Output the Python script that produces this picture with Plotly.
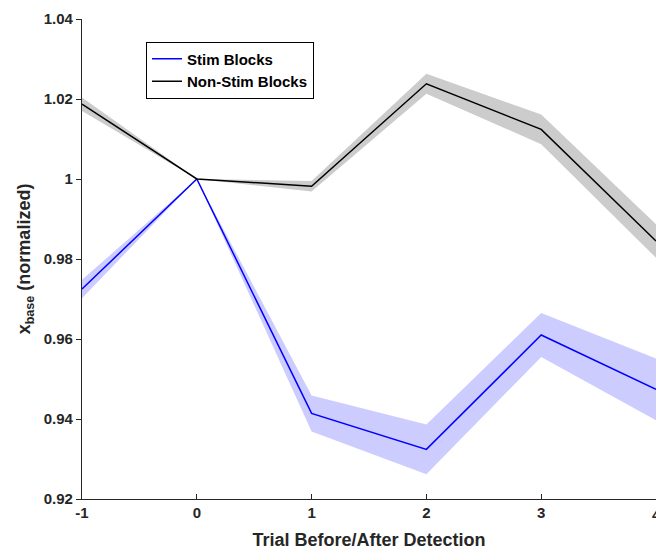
import plotly.graph_objects as go

trials = [-1, 0, 1, 2, 3, 4]
stim_mean = [0.9725, 1.0, 0.9414, 0.9324, 0.9610, 0.9474]
stim_err = [0.0023, 0.0, 0.0045, 0.0062, 0.0055, 0.0077]
nonstim_mean = [1.0187, 1.0, 0.9982, 1.0238, 1.0124, 0.9845]
nonstim_err = [0.0017, 0.0, 0.0013, 0.0025, 0.0037, 0.0042]

x_ticks = [-1, 0, 1, 2, 3, 4]
y_ticks = [0.92, 0.94, 0.96, 0.98, 1.0, 1.02, 1.04]
y_tick_labels = ["0.92", "0.94", "0.96", "0.98", "1", "1.02", "1.04"]

FONT = "Liberation Sans, Arial, Helvetica, sans-serif"
TXT = "#262626"

fig = go.Figure()

def band(mean, err, color):
    upper = [m + e for m, e in zip(mean, err)]
    lower = [m - e for m, e in zip(mean, err)]
    fig.add_trace(go.Scatter(
        x=trials + trials[::-1], y=upper + lower[::-1],
        fill="toself", fillcolor=color, line=dict(width=0),
        mode="lines", showlegend=False, hoverinfo="skip"))

band(nonstim_mean, nonstim_err, "rgb(204,204,204)")
band(stim_mean, stim_err, "rgb(204,204,255)")

fig.add_trace(go.Scatter(x=trials, y=stim_mean, mode="lines",
                         line=dict(color="#0000ff", width=1.5), name="Stim Blocks"))
fig.add_trace(go.Scatter(x=trials, y=nonstim_mean, mode="lines",
                         line=dict(color="#000000", width=1.5), name="Non-Stim Blocks"))

# last x tick label sits on the page edge; draw it as text so it is not dropped
fig.add_annotation(x=x_ticks[-1], xref="x", y=0, yref="paper",
                   text=str(x_ticks[-1]), showarrow=False,
                   xanchor="center", yanchor="top", yshift=-5,
                   font=dict(family=FONT, size=15, color=TXT, weight="bold"))

fig.update_layout(
    width=656, height=550,
    margin=dict(l=82, r=0, t=19, b=51),
    paper_bgcolor="white", plot_bgcolor="white",
    font=dict(family=FONT, color=TXT, size=15, weight="bold"),
    legend=dict(
        x=0.1115, y=0.953, xanchor="left", yanchor="top",
        bgcolor="white", bordercolor="black", borderwidth=1,
        font=dict(family=FONT, size=15, color="black", weight="bold"),
        tracegroupgap=0, itemwidth=30,
    ),
    xaxis=dict(
        range=[-1, 4], tickvals=x_ticks[:-1], ticktext=[str(v) for v in x_ticks[:-1]],
        showline=True, linecolor=TXT, linewidth=1.3,
        ticks="inside", ticklen=5, tickcolor=TXT, tickwidth=1.3,
        showgrid=False, zeroline=False,
        tickfont=dict(family=FONT, size=15, color=TXT, weight="bold"),
        title=dict(text="Trial Before/After Detection",
                   font=dict(family=FONT, size=18, color=TXT, weight="bold"),
                   standoff=14),
    ),
    yaxis=dict(
        range=[0.92, 1.04], tickvals=y_ticks, ticktext=y_tick_labels,
        showline=True, linecolor=TXT, linewidth=1.3,
        ticks="outside", ticklen=5, tickcolor=TXT, tickwidth=1.3,
        showgrid=False, zeroline=False,
        tickfont=dict(family=FONT, size=15, color=TXT, weight="bold"),
        title=dict(text="x<sub>base</sub> (normalized)",
                   font=dict(family=FONT, size=18, color=TXT, weight="bold"),
                   standoff=8),
    ),
)

fig.write_html("out.html")
